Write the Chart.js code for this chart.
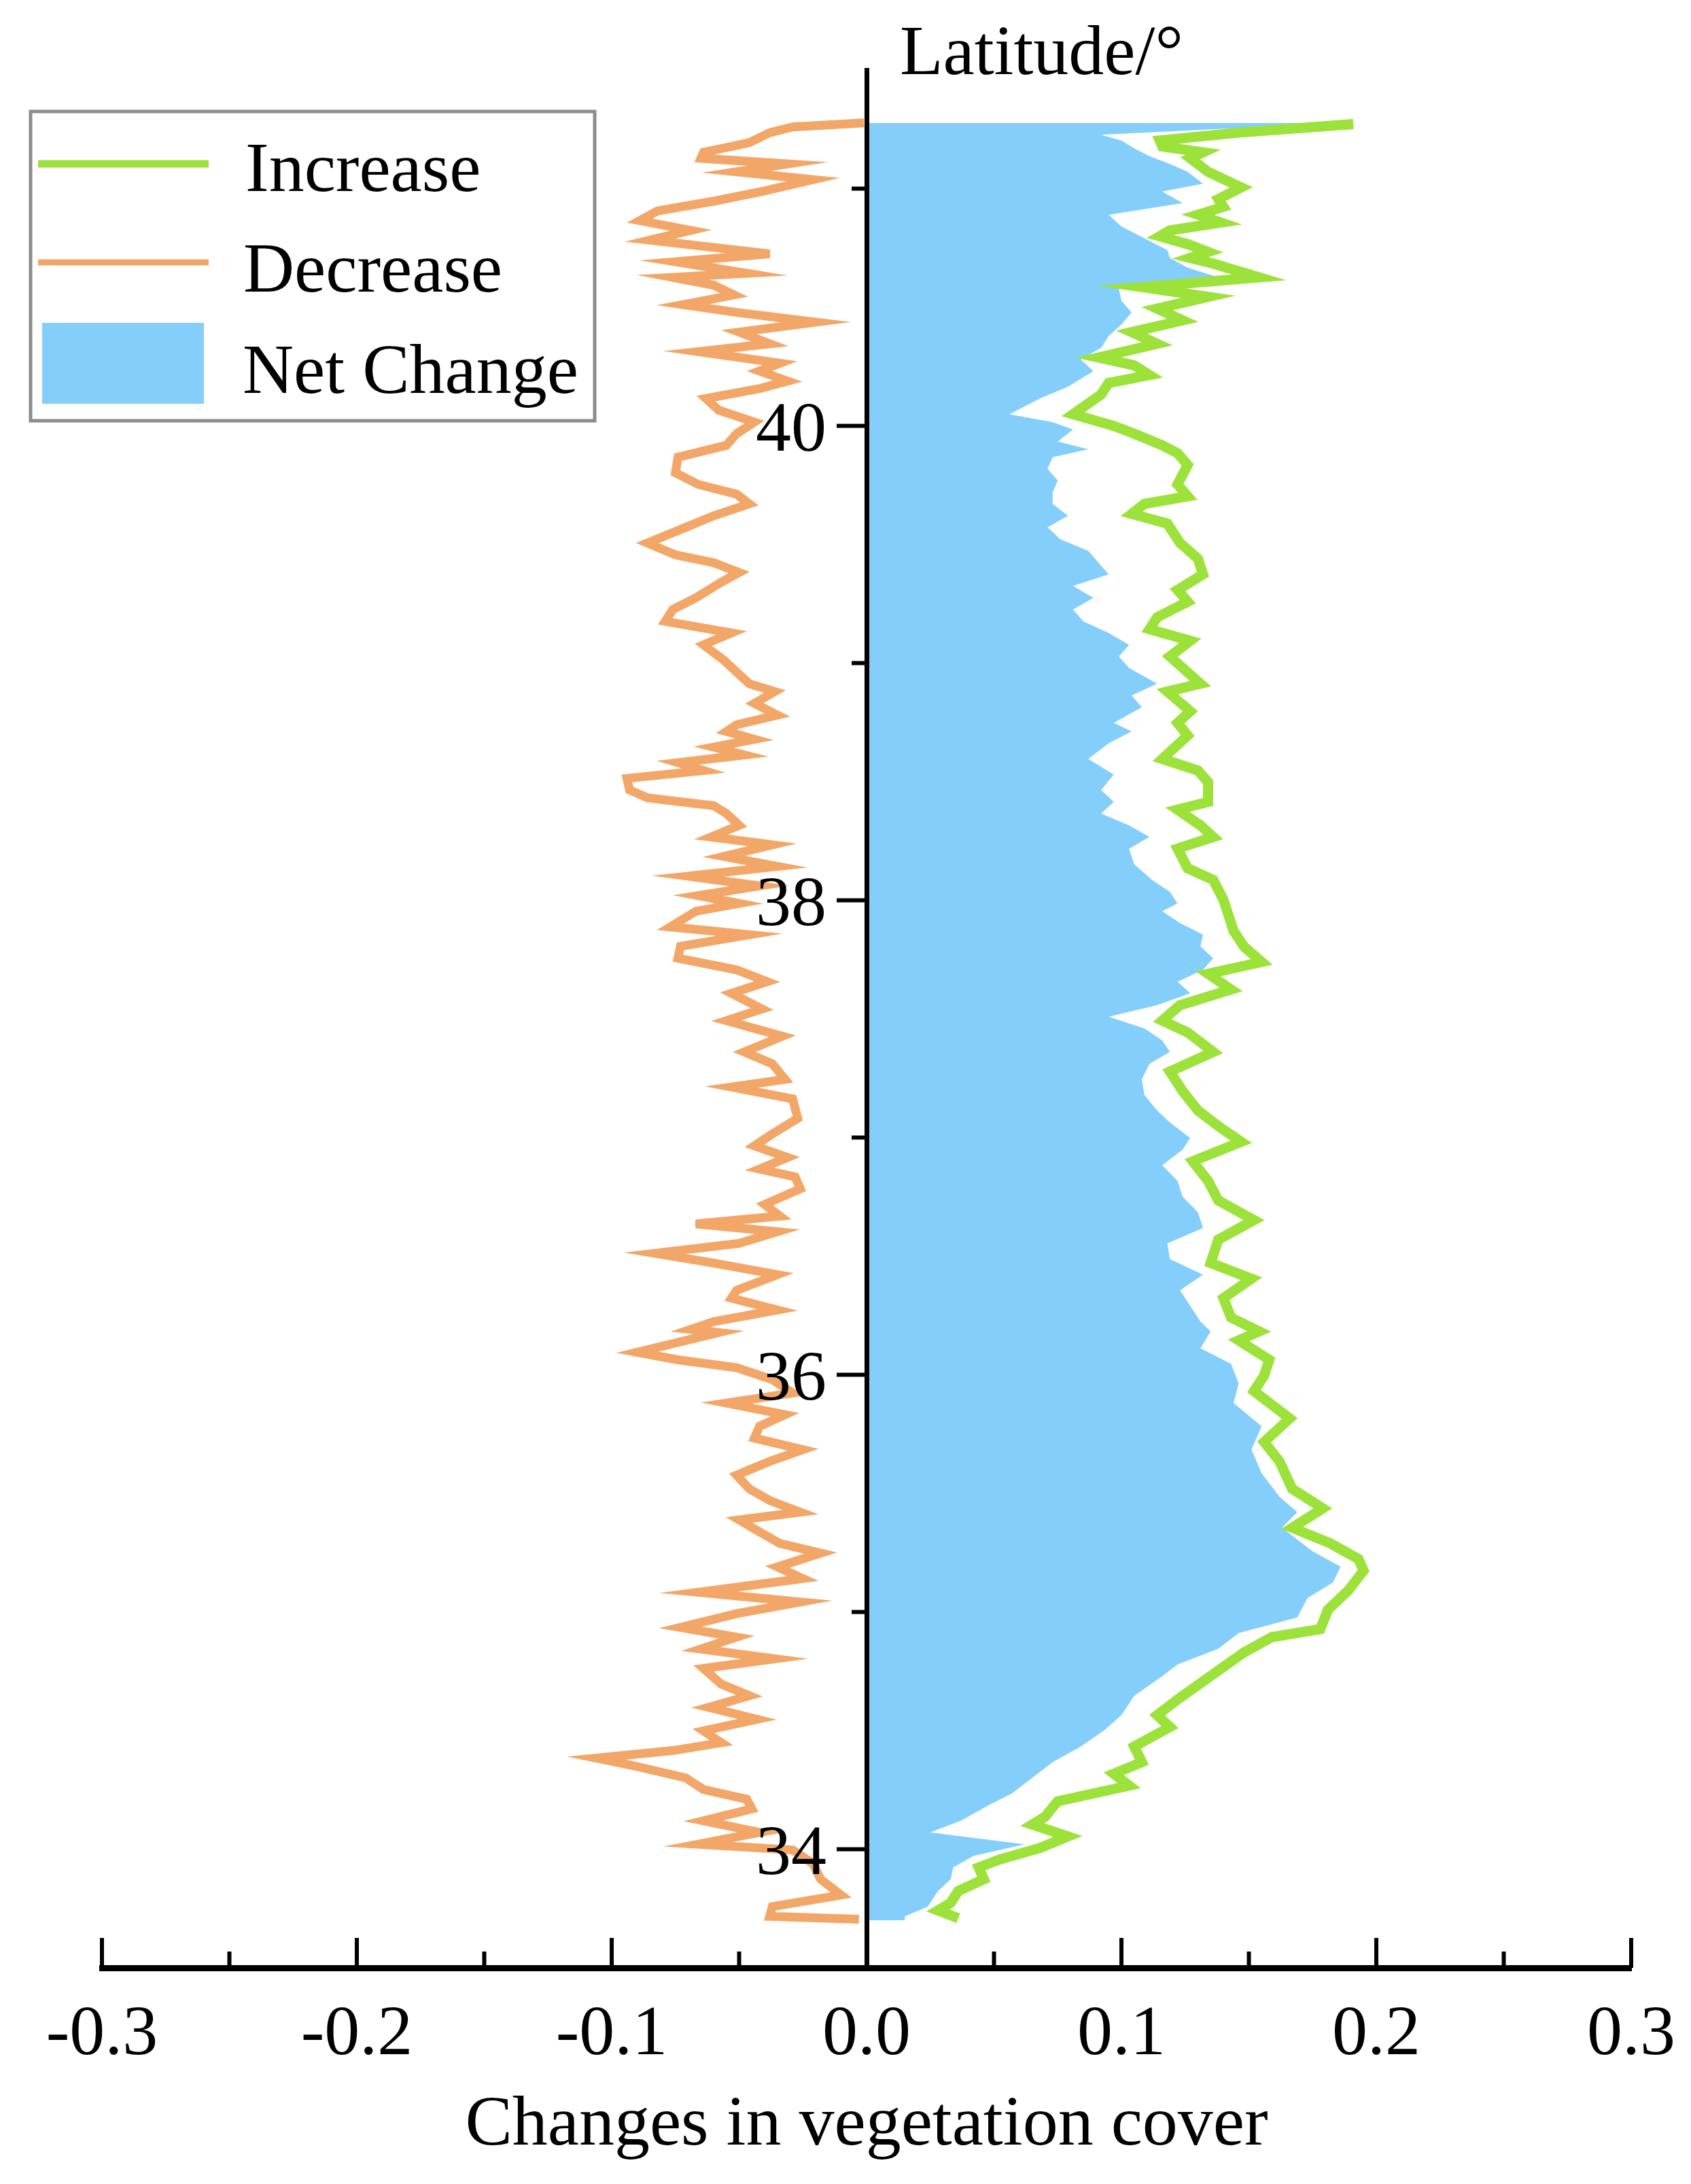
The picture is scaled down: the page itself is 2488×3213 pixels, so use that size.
<!DOCTYPE html>
<html>
<head>
<meta charset="utf-8">
<script src="https://cdn.jsdelivr.net/npm/chart.js@4.4.1/dist/chart.umd.min.js"></script>
<style>
  html, body { margin: 0; padding: 0; background: #fff; }
  #wrap { width: 2488px; height: 3213px; }
</style>
</head>
<body>
<div id="wrap"><canvas id="chart" width="2488" height="3213"></canvas></div>
<script>
// latitude (°) and change value
const decreaseLat = [
  41.277, 41.260, 41.236, 41.194, 41.153, 41.128, 41.104, 41.071, 41.038, 40.988,
  40.947, 40.906, 40.865, 40.824, 40.783, 40.741, 40.725, 40.692, 40.643, 40.626,
  40.593, 40.552, 40.511, 40.478, 40.437, 40.395, 40.346, 40.313, 40.264, 40.231,
  40.189, 40.157, 40.115, 40.066, 40.016, 39.967, 39.918, 39.868, 39.802, 39.753,
  39.712, 39.671, 39.621, 39.572, 39.506, 39.456, 39.423, 39.382, 39.341, 39.275,
  39.226, 39.176, 39.127, 39.077, 39.012, 38.962, 38.913, 38.880, 38.830, 38.781,
  38.740, 38.712, 38.679, 38.646, 38.613, 38.580, 38.547, 38.514, 38.465, 38.432,
  38.399, 38.366, 38.316, 38.267, 38.234, 38.185, 38.143, 38.102, 38.061, 38.020,
  37.987, 37.954, 37.888, 37.855, 37.806, 37.756, 37.707, 37.657, 37.608, 37.542,
  37.493, 37.427, 37.361, 37.311, 37.245, 37.213, 37.163, 37.081, 37.015, 36.965,
  36.916, 36.867, 36.834, 36.784, 36.718, 36.669, 36.636, 36.603, 36.554, 36.512,
  36.471, 36.422, 36.356, 36.323, 36.273, 36.224, 36.191, 36.178, 36.095, 36.063,
  36.030, 35.980, 35.923, 35.881, 35.832, 35.783, 35.733, 35.684, 35.635, 35.577,
  35.519, 35.470, 35.421, 35.388, 35.338, 35.289, 35.248, 35.190, 35.141, 35.083,
  35.042, 34.993, 34.935, 34.894, 34.844, 34.803, 34.762, 34.696, 34.647, 34.598,
  34.548, 34.499, 34.449, 34.416, 34.384, 34.351, 34.301, 34.252, 34.211, 34.170,
  34.120, 34.071, 34.021, 33.997, 33.939, 33.873, 33.807, 33.758, 33.717, 33.705
];
const decreaseValue = [
  -0.001, -0.029, -0.038, -0.046, -0.064, -0.065, -0.031, -0.051, -0.021, -0.041,
  -0.060, -0.082, -0.089, -0.069, -0.085, -0.051, -0.038, -0.075, -0.047, -0.076,
  -0.060, -0.052, -0.072, -0.051, -0.020, -0.050, -0.038, -0.066, -0.034, -0.042,
  -0.031, -0.042, -0.063, -0.058, -0.044, -0.051, -0.055, -0.074, -0.075, -0.066,
  -0.051, -0.046, -0.060, -0.071, -0.086, -0.075, -0.060, -0.050, -0.057, -0.067,
  -0.076, -0.079, -0.053, -0.064, -0.056, -0.051, -0.046, -0.036, -0.044, -0.035,
  -0.051, -0.055, -0.044, -0.060, -0.048, -0.074, -0.064, -0.094, -0.093, -0.086,
  -0.060, -0.055, -0.050, -0.061, -0.037, -0.056, -0.035, -0.070, -0.042, -0.066,
  -0.050, -0.067, -0.077, -0.046, -0.073, -0.074, -0.051, -0.039, -0.053, -0.041,
  -0.055, -0.033, -0.048, -0.037, -0.032, -0.053, -0.029, -0.027, -0.037, -0.044,
  -0.031, -0.042, -0.028, -0.026, -0.040, -0.034, -0.067, -0.035, -0.050, -0.083,
  -0.060, -0.035, -0.051, -0.053, -0.035, -0.060, -0.069, -0.058, -0.090, -0.074,
  -0.051, -0.037, -0.029, -0.055, -0.032, -0.042, -0.044, -0.025, -0.038, -0.051,
  -0.046, -0.038, -0.026, -0.050, -0.042, -0.034, -0.018, -0.035, -0.025, -0.066,
  -0.026, -0.051, -0.073, -0.051, -0.065, -0.036, -0.064, -0.057, -0.046, -0.062,
  -0.043, -0.064, -0.057, -0.076, -0.106, -0.091, -0.071, -0.064, -0.047, -0.045,
  -0.064, -0.042, -0.066, -0.029, -0.021, -0.018, -0.010, -0.037, -0.038, -0.003
];

const increaseLat = [
  41.272, 41.236, 41.203, 41.178, 41.153, 41.128, 41.071, 41.005, 40.956, 40.923,
  40.890, 40.857, 40.824, 40.799, 40.766, 40.733, 40.708, 40.684, 40.626, 40.585,
  40.544, 40.494, 40.445, 40.395, 40.346, 40.288, 40.255, 40.214, 40.181, 40.132,
  40.049, 40.000, 39.967, 39.918, 39.885, 39.835, 39.753, 39.703, 39.671, 39.629,
  39.588, 39.506, 39.440, 39.374, 39.308, 39.259, 39.193, 39.143, 39.094, 39.028,
  38.913, 38.880, 38.797, 38.748, 38.695, 38.596, 38.547, 38.498, 38.415, 38.382,
  38.316, 38.267, 38.218, 38.135, 38.086, 38.003, 37.937, 37.871, 37.806, 37.740,
  37.690, 37.624, 37.558, 37.493, 37.443, 37.361, 37.278, 37.196, 37.114, 37.048,
  36.982, 36.900, 36.817, 36.735, 36.652, 36.570, 36.471, 36.405, 36.323, 36.241,
  36.183, 36.145, 36.063, 35.997, 35.931, 35.816, 35.717, 35.635, 35.519, 35.437,
  35.355, 35.289, 35.223, 35.174, 35.091, 35.009, 34.928, 34.894, 34.829, 34.730,
  34.631, 34.565, 34.515, 34.433, 34.367, 34.318, 34.268, 34.202, 34.137, 34.104,
  34.054, 34.005, 33.956, 33.923, 33.873, 33.824, 33.774, 33.742, 33.709
];
const increaseValue = [
  0.191, 0.146, 0.115, 0.116, 0.132, 0.127, 0.134, 0.147, 0.138, 0.140,
  0.130, 0.139, 0.119, 0.115, 0.126, 0.134, 0.127, 0.136, 0.154, 0.108,
  0.134, 0.114, 0.124, 0.104, 0.114, 0.091, 0.105, 0.111, 0.095, 0.092,
  0.081, 0.097, 0.105, 0.116, 0.122, 0.126, 0.122, 0.126, 0.109, 0.104,
  0.118, 0.123, 0.130, 0.132, 0.122, 0.126, 0.114, 0.111, 0.127, 0.119,
  0.131, 0.118, 0.127, 0.122, 0.126, 0.116, 0.130, 0.134, 0.134, 0.122,
  0.131, 0.136, 0.122, 0.126, 0.136, 0.140, 0.142, 0.144, 0.148, 0.155,
  0.134, 0.143, 0.123, 0.116, 0.126, 0.136, 0.119, 0.124, 0.130, 0.138,
  0.147, 0.128, 0.134, 0.138, 0.152, 0.138, 0.135, 0.151, 0.140, 0.143,
  0.154, 0.146, 0.158, 0.156, 0.152, 0.166, 0.156, 0.162, 0.167, 0.179,
  0.167, 0.182, 0.193, 0.195, 0.189, 0.181, 0.178, 0.159, 0.148, 0.135,
  0.122, 0.114, 0.119, 0.105, 0.108, 0.097, 0.103, 0.075, 0.070, 0.065,
  0.079, 0.068, 0.052, 0.044, 0.046, 0.036, 0.033, 0.028, 0.036
];

const netLat = [
  41.277, 41.255, 41.227, 41.203, 41.170, 41.137, 41.104, 41.071, 41.021, 40.988,
  40.939, 40.890, 40.840, 40.791, 40.741, 40.708, 40.667, 40.626, 40.577, 40.527,
  40.478, 40.428, 40.379, 40.329, 40.280, 40.231, 40.165, 40.115, 40.049, 40.016,
  39.984, 39.934, 39.901, 39.868, 39.819, 39.769, 39.720, 39.671, 39.621, 39.572,
  39.522, 39.473, 39.423, 39.374, 39.325, 39.275, 39.226, 39.176, 39.127, 39.077,
  39.028, 38.979, 38.913, 38.863, 38.814, 38.748, 38.712, 38.662, 38.596, 38.530,
  38.465, 38.415, 38.366, 38.316, 38.267, 38.217, 38.152, 38.086, 38.036, 37.987,
  37.954, 37.904, 37.855, 37.806, 37.756, 37.707, 37.657, 37.608, 37.558, 37.509,
  37.460, 37.410, 37.361, 37.311, 37.245, 37.180, 37.114, 37.064, 36.998, 36.949,
  36.883, 36.817, 36.751, 36.685, 36.619, 36.554, 36.488, 36.422, 36.356, 36.290,
  36.224, 36.183, 36.112, 36.046, 35.964, 35.881, 35.783, 35.684, 35.585, 35.486,
  35.421, 35.355, 35.256, 35.191, 35.125, 35.059, 34.977, 34.911, 34.845, 34.779,
  34.729, 34.647, 34.565, 34.499, 34.433, 34.367, 34.301, 34.235, 34.186, 34.120,
  34.071, 34.021, 33.972, 33.923, 33.873, 33.824, 33.758, 33.717, 33.700
];
const netValue = [
  0.180, 0.145, 0.092, 0.100, 0.105, 0.111, 0.119, 0.126, 0.132, 0.116,
  0.124, 0.095, 0.100, 0.109, 0.118, 0.119, 0.126, 0.138, 0.099, 0.100,
  0.104, 0.100, 0.095, 0.092, 0.084, 0.089, 0.079, 0.068, 0.056, 0.073,
  0.081, 0.075, 0.087, 0.073, 0.071, 0.075, 0.073, 0.073, 0.079, 0.071,
  0.076, 0.087, 0.091, 0.095, 0.081, 0.089, 0.081, 0.085, 0.095, 0.103,
  0.099, 0.103, 0.114, 0.104, 0.108, 0.097, 0.104, 0.095, 0.087, 0.097,
  0.092, 0.097, 0.092, 0.103, 0.111, 0.103, 0.105, 0.112, 0.119, 0.122,
  0.116, 0.123, 0.132, 0.131, 0.136, 0.132, 0.122, 0.127, 0.114, 0.095,
  0.109, 0.116, 0.119, 0.111, 0.108, 0.109, 0.114, 0.119, 0.127, 0.124,
  0.116, 0.122, 0.124, 0.130, 0.132, 0.118, 0.119, 0.132, 0.123, 0.127,
  0.131, 0.135, 0.131, 0.143, 0.146, 0.144, 0.155, 0.151, 0.155, 0.162,
  0.169, 0.163, 0.175, 0.186, 0.183, 0.173, 0.169, 0.146, 0.138, 0.122,
  0.116, 0.105, 0.100, 0.093, 0.084, 0.073, 0.065, 0.057, 0.048, 0.037,
  0.025, 0.062, 0.042, 0.034, 0.033, 0.028, 0.024, 0.015, 0.015
];

const xMajorTicks = [-0.3, -0.2, -0.1, 0, 0.1, 0.2, 0.3];
const xMinorTicks = [-0.25, -0.15, -0.05, 0.05, 0.15, 0.25];
const yMajorTicks = [34, 36, 38, 40];
const yMinorTicks = [35, 37, 39, 41];

const FONT = "'Liberation Serif', 'Times New Roman', serif";
Chart.defaults.font.family = FONT;
Chart.defaults.color = '#000';

function toPoints(lats, values) {
  return lats.map((lat, i) => ({ x: values[i], y: lat }));
}

// tick marks and the latitude labels: x ticks point up, y ticks point left
const axisTicks = {
  id: 'axisTicks',
  afterDraw(chart) {
    const { ctx, chartArea, scales: { x, y } } = chart;
    const x0 = x.getPixelForValue(0);
    const base = chartArea.bottom;
    ctx.save();
    ctx.strokeStyle = '#000';
    ctx.lineWidth = 6;
    ctx.beginPath();
    xMajorTicks.forEach(v => {
      const px = x.getPixelForValue(v);
      ctx.moveTo(px, base);
      ctx.lineTo(px, base - 44);
    });
    xMinorTicks.forEach(v => {
      const px = x.getPixelForValue(v);
      ctx.moveTo(px, base);
      ctx.lineTo(px, base - 24);
    });
    yMajorTicks.forEach(v => {
      const py = y.getPixelForValue(v);
      ctx.moveTo(x0, py);
      ctx.lineTo(x0 - 44, py);
    });
    yMinorTicks.forEach(v => {
      const py = y.getPixelForValue(v);
      ctx.moveTo(x0, py);
      ctx.lineTo(x0 - 22, py);
    });
    ctx.stroke();

    ctx.fillStyle = '#000';
    ctx.font = '104px ' + FONT;
    ctx.textBaseline = 'alphabetic';
    ctx.textAlign = 'right';
    yMajorTicks.forEach(v => {
      ctx.fillText(String(v), x0 - 59, y.getPixelForValue(v) + 36);
    });

    // y axis name, next to the top of the axis
    ctx.textAlign = 'left';
    ctx.fillText('Latitude/°', x0 + 49, chartArea.top + 6);
    ctx.restore();
  }
};

// framed legend in the upper left corner
const boxLegend = {
  id: 'boxLegend',
  afterDraw(chart) {
    const ctx = chart.ctx;
    const [inc, dec, net] = chart.data.datasets;
    ctx.save();
    ctx.fillStyle = '#fff';
    ctx.fillRect(45, 164, 830, 455);
    ctx.strokeStyle = '#8c8c8c';
    ctx.lineWidth = 5;
    ctx.strokeRect(45, 164, 830, 455);

    ctx.lineCap = 'butt';
    ctx.strokeStyle = inc.borderColor;
    ctx.lineWidth = 11;
    ctx.beginPath();
    ctx.moveTo(56, 241);
    ctx.lineTo(307, 241);
    ctx.stroke();

    ctx.strokeStyle = dec.borderColor;
    ctx.lineWidth = 9;
    ctx.beginPath();
    ctx.moveTo(56, 386);
    ctx.lineTo(307, 386);
    ctx.stroke();

    ctx.fillStyle = net.backgroundColor;
    ctx.fillRect(62, 475, 238, 119);

    ctx.fillStyle = '#000';
    ctx.font = '104px ' + FONT;
    ctx.textAlign = 'left';
    ctx.textBaseline = 'alphabetic';
    ctx.fillText(inc.label, 361, 281);
    ctx.fillText(dec.label, 358, 429);
    ctx.fillText(net.label, 357, 578);
    ctx.restore();
  }
};

new Chart(document.getElementById('chart'), {
  type: 'line',
  data: {
    datasets: [
      {
        label: 'Increase',
        data: toPoints(increaseLat, increaseValue),
        borderColor: '#9de23b',
        borderWidth: 15,
        borderJoinStyle: 'miter',
        pointRadius: 0,
        tension: 0,
        fill: false
      },
      {
        label: 'Decrease',
        data: toPoints(decreaseLat, decreaseValue),
        borderColor: '#f2a769',
        borderWidth: 13,
        borderJoinStyle: 'miter',
        pointRadius: 0,
        tension: 0,
        fill: false
      },
      {
        label: 'Net Change',
        data: toPoints(netLat, netValue),
        borderColor: '#84cefb',
        backgroundColor: '#84cefb',
        borderWidth: 0,
        pointRadius: 0,
        tension: 0,
        fill: 'origin'
      }
    ]
  },
  options: {
    indexAxis: 'y',
    responsive: false,
    animation: false,
    layout: { padding: { left: 150, right: 88, top: 103, bottom: 23 } },
    plugins: {
      legend: { display: false },
      tooltip: { enabled: false }
    },
    scales: {
      x: {
        type: 'linear',
        position: 'bottom',
        min: -0.3,
        max: 0.3,
        afterBuildTicks: s => { s.ticks = xMajorTicks.map(v => ({ value: v })); },
        afterFit: s => {
          s.height = 295;
          s.paddingLeft = 0;
          s.paddingRight = 0;
        },
        grid: { display: false, drawTicks: false },
        border: { display: true, color: '#000', width: 9, z: 1 },
        ticks: {
          font: { size: 104 },
          color: '#000',
          padding: 37,
          maxRotation: 0,
          autoSkip: false,
          callback: v => v.toFixed(1)
        },
        title: {
          display: true,
          text: 'Changes in vegetation cover',
          font: { size: 104 },
          color: '#000',
          padding: { top: 8, bottom: 0 }
        }
      },
      y: {
        type: 'linear',
        position: { x: 0 },
        min: 33.5,
        max: 41.5,
        afterBuildTicks: s => { s.ticks = yMajorTicks.map(v => ({ value: v })); },
        grid: { display: false, drawTicks: false },
        border: { display: true, color: '#000', width: 7, z: 1 },
        ticks: { display: false, padding: 0 }
      }
    }
  },
  plugins: [axisTicks, boxLegend]
});
</script>
</body>
</html>
